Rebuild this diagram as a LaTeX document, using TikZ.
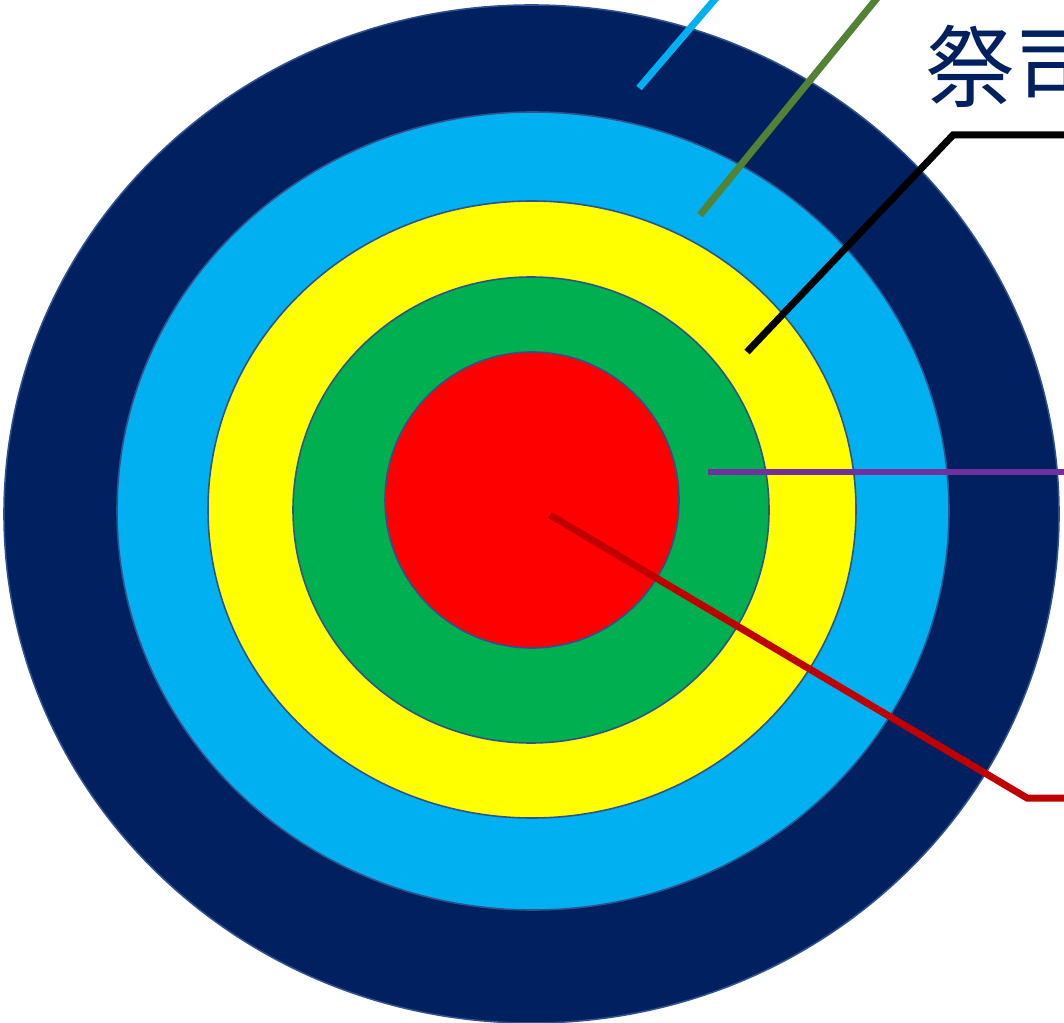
\documentclass[tikz,border=0pt]{standalone}
\usepackage{fontspec}
\newfontfamily\cjkfont{Noto Sans CJK SC}
\definecolor{navy}{HTML}{002060}
\definecolor{skyb}{HTML}{00B0F0}
\definecolor{ylw}{HTML}{FFFF00}
\definecolor{grn}{HTML}{00B050}
\definecolor{rd}{HTML}{FF0000}
\definecolor{rim}{HTML}{2F528F}
\definecolor{olive}{HTML}{548235}
\definecolor{purp}{HTML}{7030A0}
\definecolor{dred}{HTML}{C00000}
\tikzset{
  ring/.style={draw=rim, line width=0.9pt},
  callout/.style={line width=3.98pt, line join=miter},
  lbl/.style={font=\cjkfont\fontsize{51}{51}\selectfont, text=navy, inner sep=0pt, anchor=west}
}
\begin{document}
\begin{tikzpicture}[x=0.02cm, y=-0.02cm]
\useasboundingbox (0,0) rectangle (1064,1023);
\clip (0,0) rectangle (1064,1023);
% rings
\draw[ring, fill=navy] (531.5,514) ellipse (527.5 and 509);
\draw[ring, fill=skyb] (533,511) ellipse (416 and 399);
\draw[ring, fill=ylw] (532,509.5) ellipse (324 and 308.5);
\draw[ring, fill=grn] (531,510) ellipse (238 and 233);
\draw[ring, fill=rd] (532,500) ellipse (147 and 148);
% label
\node[lbl] (t1) at (925,66) {祭司};
% callout coordinates
\coordinate (c1a) at (639,88);
\coordinate (c1b) at (740,-30);
\coordinate (c2a) at (700,215);
\coordinate (c2b) at (900,-30);
\coordinate (c3a) at (747,352);
\coordinate (c3k) at (953,135);
\coordinate (c3b) at (1080,135);
\coordinate (c4a) at (708,472);
\coordinate (c4b) at (1080,472);
\coordinate (c5a) at (550,515);
\coordinate (c5k) at (1027,798);
\coordinate (c5b) at (1080,798);
% callouts
\draw[callout, draw=skyb] (c1a) -- (c1b);
\draw[callout, draw=olive] (c2a) -- (c2b);
\draw[callout, draw=black] (c3a) -- (c3k) -- (c3b);
\draw[callout, draw=purp] (c4a) -- (c4b);
\draw[callout, draw=dred] (c5a) -- (c5k) -- (c5b);
\end{tikzpicture}
\end{document}
